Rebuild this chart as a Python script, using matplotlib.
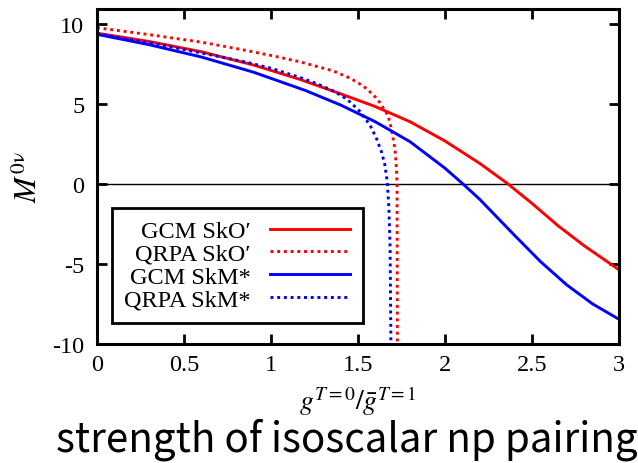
import matplotlib
matplotlib.use("Agg")
import matplotlib.pyplot as plt

plt.rcParams['font.family'] = ['Liberation Serif', 'DejaVu Serif']
plt.rcParams['mathtext.fontset'] = 'stix'
plt.rcParams['axes.unicode_minus'] = False

# GCM SkO' (red solid)
x_gcm_sko = [0, 0.3, 0.6, 0.9, 1.167, 1.4, 1.6, 1.8, 2.0, 2.2, 2.364, 2.5, 2.65,
             2.8, 3.0]
gcm_sko = [9.44, 8.92, 8.28, 7.45, 6.55, 5.65, 4.85, 3.9, 2.7, 1.3, 0.0, -1.2, -2.6,
           -3.85, -5.35]

# GCM SkM* (blue solid)
x_gcm_skm = [0, 0.3, 0.6, 0.9, 1.2, 1.4, 1.6, 1.8, 2.0, 2.105, 2.2, 2.4, 2.55, 2.7,
             2.85, 3.0]
gcm_skm = [9.37, 8.72, 7.95, 7.0, 5.85, 4.95, 3.9, 2.65, 1.0, 0.0, -0.95, -3.2, -4.85,
           -6.3, -7.5, -8.45]

# QRPA SkO' (red dotted), collapses near 1.73
x_qrpa_sko = [0, 0.3, 0.6, 0.82, 1.0, 1.167, 1.358, 1.45, 1.5, 1.55, 1.6, 1.626, 1.674,
              1.693, 1.713, 1.722, 1.725, 1.726, 1.727]
qrpa_sko = [9.78, 9.35, 8.88, 8.44, 8.05, 7.65, 7.08, 6.65, 6.35, 5.97, 5.45, 5.1, 4.27,
            3.44, 2.19, 0.94, 0.0, -5.0, -10.5]

# QRPA SkM* (blue dotted), collapses near 1.69
x_qrpa_skm = [0, 0.3, 0.6, 0.85, 1.0, 1.167, 1.26, 1.358, 1.41, 1.454, 1.511, 1.569,
              1.607, 1.636, 1.655, 1.669, 1.678, 1.685, 1.69]
qrpa_skm = [9.4, 8.85, 8.2, 7.65, 7.25, 6.67, 6.3, 5.83, 5.5, 5.15, 4.55, 3.7,
            2.85, 2.0, 1.2, 0.1, -1.5, -4.0, -10.5]

xticks = [0, 0.5, 1, 1.5, 2, 2.5, 3]
xticklabels = ['0', '0.5', '1', '1.5', '2', '2.5', '3']
yticks = [-10, -5, 0, 5, 10]

fig = plt.figure(figsize=(6.38, 4.64), dpi=100)
ax = fig.add_axes([0.152, 0.2565, 0.818, 0.7215])

dots = (0, (1, 1.3))
ax.axhline(0, color='black', linewidth=1.0)
ax.plot(x_gcm_sko, gcm_sko, color='#ff0000', lw=2.1, label="GCM SkO\u2032")
ax.plot(x_qrpa_sko, qrpa_sko, color='#ff0000', lw=2.1, ls=dots, label="QRPA SkO\u2032")
ax.plot(x_gcm_skm, gcm_skm, color='#0000ff', lw=2.1, label="GCM SkM*")
ax.plot(x_qrpa_skm, qrpa_skm, color='#0000ff', lw=2.1, ls=dots, label="QRPA SkM*")

ax.set_xlim(0, 3)
ax.set_ylim(-10, 10.94)
ax.set_xticks(xticks)
ax.set_xticklabels(xticklabels)
ax.set_yticks(yticks)
ax.tick_params(direction='in', length=7, width=2, top=True, right=True, labelsize=17.5)
ax.tick_params(axis='x', pad=7)
ax.tick_params(axis='y', pad=9)
for s in ax.spines.values():
    s.set_linewidth(2.2)

ax.set_ylabel(r'$M^{0\mathrm{\nu}}$', fontsize=22, labelpad=6)
ax.set_xlabel(r'$g^{T=0}/\bar{g}^{T=1}$', fontsize=20, labelpad=6)

leg = ax.legend(loc='upper left', bbox_to_anchor=(0.029, 0.406), borderaxespad=0,
                markerfirst=False, fontsize=17.5, handlelength=3.3, handletextpad=0.8,
                labelspacing=0.03, borderpad=0.5, fancybox=False, framealpha=1)
leg.get_frame().set_edgecolor('black')
leg.get_frame().set_linewidth(2.0)

fig.text(0.543, 0.026, 'strength of isoscalar np pairing', fontsize=29,
         family=['Noto Sans CJK JP', 'DejaVu Sans'], ha='center', va='baseline')

fig.savefig('out.png', dpi=100)
